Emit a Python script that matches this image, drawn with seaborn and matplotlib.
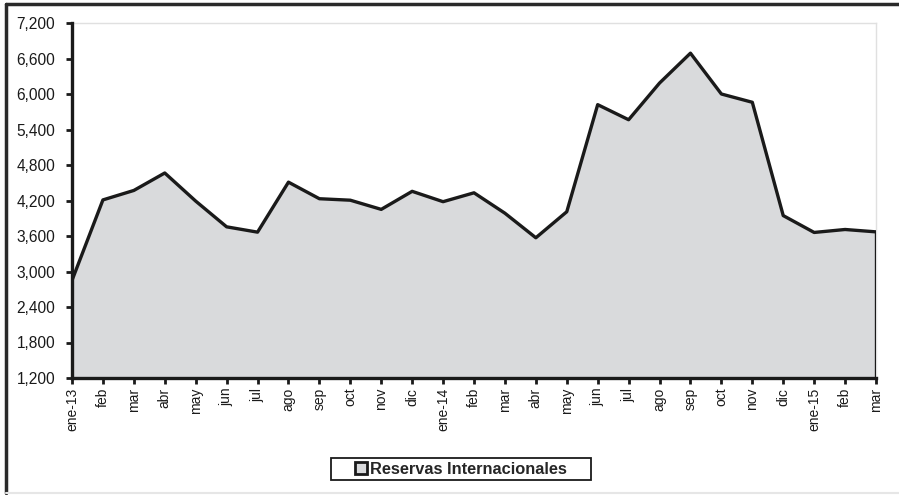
import pandas as pd
import matplotlib.pyplot as plt
import seaborn as sns
from matplotlib.lines import Line2D
from matplotlib.patches import Rectangle
from matplotlib.ticker import FuncFormatter

# Monthly values, ene-13 .. mar-15
months = ['ene-13', 'feb', 'mar', 'abr', 'may', 'jun', 'jul', 'ago', 'sep', 'oct', 'nov', 'dic',
          'ene-14', 'feb', 'mar', 'abr', 'may', 'jun', 'jul', 'ago', 'sep', 'oct', 'nov', 'dic',
          'ene-15', 'feb', 'mar']
reservas = [2850, 4210, 4370, 4665, 4190, 3755, 3665, 4510, 4230, 4205, 4050, 4355,
            4180, 4330, 3985, 3570, 4010, 5820, 5565, 6185, 6690, 6000, 5860, 3945,
            3660, 3710, 3670]
y_ticks = [1200, 1800, 2400, 3000, 3600, 4200, 4800, 5400, 6000, 6600, 7200]

df = pd.DataFrame({'pos': range(len(months)), 'valor': reservas})

sns.set_theme(style='white')
plt.rcParams['font.family'] = ['Liberation Sans', 'DejaVu Sans']

fig = plt.figure(figsize=(8.99, 4.95), dpi=100)
ax = fig.add_axes([72 / 899, 1 - 378 / 495, (876 - 72) / 899, (378 - 23) / 495])

ax.fill_between(df['pos'], 1200, df['valor'], color='#d9dadc', zorder=1)
sns.lineplot(data=df, x='pos', y='valor', color='#1a1a1a', linewidth=2.4, ax=ax, zorder=3)
# right closing edge of the area
ax.plot([df['pos'].iloc[-1]] * 2, [1200, reservas[-1]], color='#1a1a1a', linewidth=2.4, zorder=3)

ax.set_xlim(0, len(months) - 1)
ax.set_ylim(1200, 7200)
ax.set_yticks(y_ticks)
ax.yaxis.set_major_formatter(FuncFormatter(lambda v, p: f'{int(v):,}'))
ax.set_xticks(df['pos'])
ax.set_xticklabels(months, rotation=90)
ax.set_xlabel('')
ax.set_ylabel('')

ax.tick_params(axis='both', which='major', direction='out', length=4, width=2,
               color='#1a1a1a', labelcolor='#1a1a1a', bottom=True, left=True)
ax.tick_params(axis='y', labelsize=11.2, pad=8)
ax.tick_params(axis='x', labelsize=10, pad=3)

for side in ['top', 'right']:
    ax.spines[side].set_color('#e0e0e0')
    ax.spines[side].set_linewidth(1)
for side in ['left', 'bottom']:
    ax.spines[side].set_color('#1a1a1a')
    ax.spines[side].set_linewidth(2.4)
    ax.spines[side].set_zorder(4)

# legend (box drawn separately to get the wide padding)
handle = Line2D([], [], marker='s', linestyle='none', markersize=8,
                markerfacecolor='#d9dadc', markeredgecolor='#1a1a1a', markeredgewidth=2)
leg = fig.legend([handle], ['Reservas Internacionales'], loc='center',
                 bbox_to_anchor=(461 / 899, 1 - 469 / 495), frameon=False,
                 prop={'weight': 'bold', 'size': 11.8}, handlelength=0.7, handletextpad=0.15,
                 borderpad=0, borderaxespad=0)
fig.add_artist(Rectangle((331 / 899, 1 - 480 / 495), 260 / 899, 22 / 495,
                         transform=fig.transFigure, fill=False, edgecolor='#1a1a1a', linewidth=1.3))

# outer frame: dark left/top, light right/bottom
fig.add_artist(Line2D([6 / 899, 6 / 899], [1 - 4 / 495, 1 - 493 / 495], color='#2a2a2a', linewidth=2.5))
fig.add_artist(Line2D([6 / 899, 1], [1 - 4 / 495, 1 - 4 / 495], color='#2a2a2a', linewidth=2.5))
fig.add_artist(Line2D([6 / 899, 1], [1 - 493 / 495, 1 - 493 / 495], color='#e6e6e6', linewidth=1.5))

fig.savefig('out.png', dpi=100)
